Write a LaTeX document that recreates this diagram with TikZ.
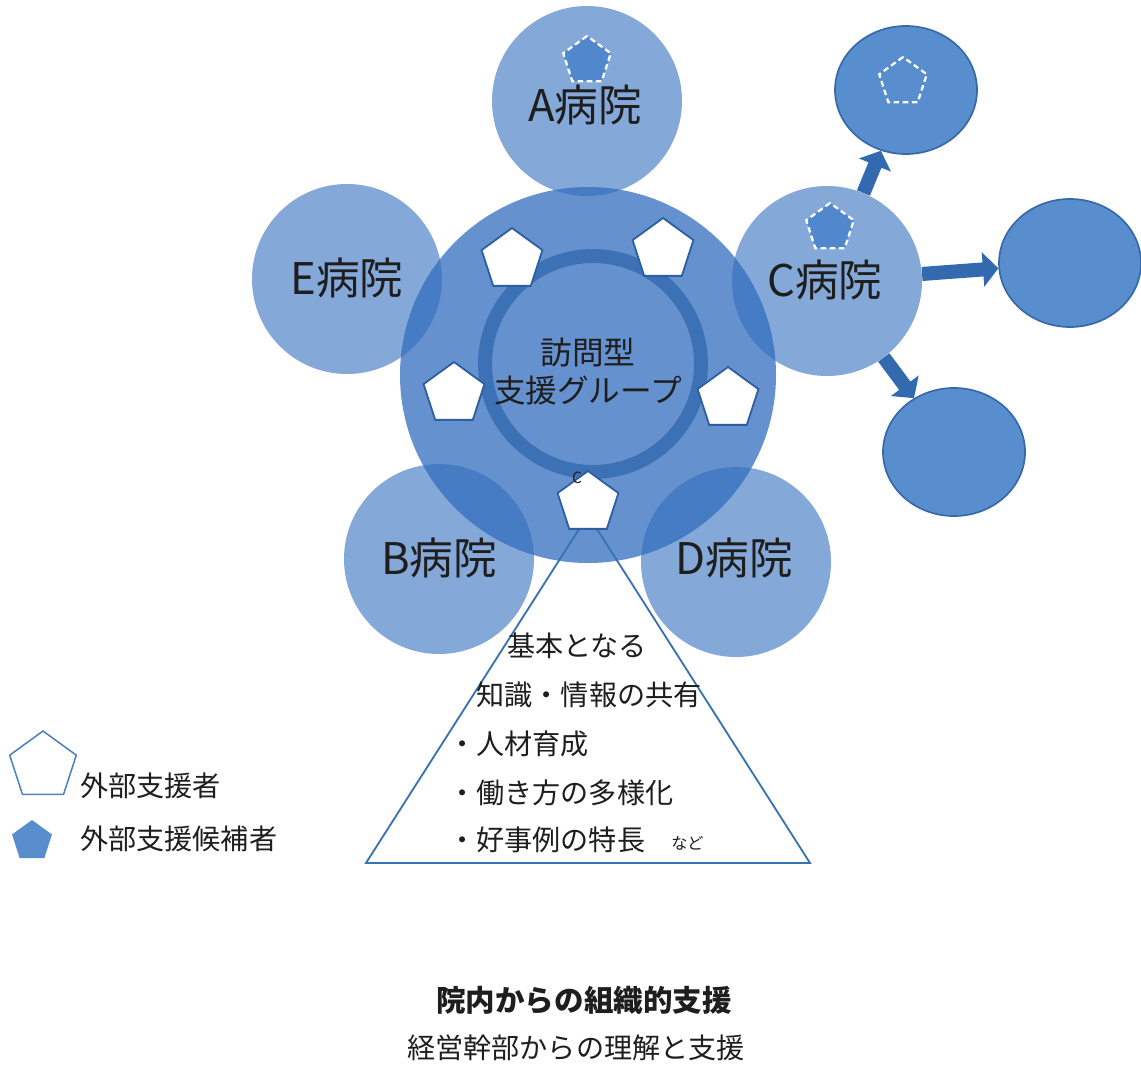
\documentclass[tikz,border=0pt]{standalone}
\usepackage{fontspec}
\setmainfont{Noto Sans CJK JP}
\usetikzlibrary{shapes.geometric,arrows.meta}
\newdimen\pxu \pxu=0.025cm
\definecolor{basebl}{RGB}{50,110,190}
\definecolor{ringbl}{RGB}{55,108,178}
\definecolor{satbl}{RGB}{88,142,206}
\definecolor{satedge}{RGB}{55,105,170}
\definecolor{arrbl}{RGB}{50,105,175}
\definecolor{pentedge}{RGB}{45,95,165}
\definecolor{dashfill}{RGB}{80,135,205}
\definecolor{triline}{RGB}{55,115,180}
\definecolor{legedge}{RGB}{80,130,190}
\definecolor{txt}{RGB}{30,30,30}
\begin{document}
\begin{tikzpicture}[x=0.025cm,y=-0.025cm,
  hubcircle/.style={circle, fill=basebl, fill opacity=0.75, minimum size=376\pxu, inner sep=0pt},
  hosp/.style={circle, fill=basebl, fill opacity=0.6, text opacity=1, minimum size=190\pxu, inner sep=0pt, text=txt, font=\fontsize{31pt}{36pt}\selectfont},
  ringst/.style={circle, draw=ringbl, draw opacity=0.85, line width=14\pxu, minimum size=216\pxu, inner sep=0pt},
  pent/.style={regular polygon, regular polygon sides=5, minimum size=64\pxu, inner sep=0pt, fill=white, draw=pentedge, line width=1.3pt},
  dpent/.style={regular polygon, regular polygon sides=5, minimum size=50\pxu, inner sep=0pt, draw=white, line width=1.6pt, dash pattern=on 4pt off 2.5pt},
  sat/.style={ellipse, fill=satbl, draw=satedge, line width=1.2pt, minimum width=142\pxu, minimum height=128\pxu, inner sep=0pt},
  arr/.style={draw=arrbl, line width=10pt, -{Triangle[length=11pt,width=24pt]}},
  trilin/.style={draw=triline, line width=1.3pt, line join=miter},
  txtA/.style={inner sep=0pt, text=txt, font=\fontsize{20pt}{24pt}\selectfont},
  hubtext/.style={inner sep=0pt, text=txt, align=center, font=\fontsize{22.5pt}{27pt}\selectfont},
  hlabel/.style={inner sep=0pt, text=txt, font=\fontsize{31pt}{36pt}\selectfont},
]
\fill[white] (0,0) rectangle (1141,1064);
\useasboundingbox (0,0) rectangle (1141,1064);

% central circle and ring
\node[hubcircle] (hub) at (588,375) {};
\node[ringst] (ring) at (593,364) {};

% hospitals
\node[hosp] (A) at (587,101) {};
\node[hosp] (E) at (347,279) {};
\node[hosp] (C) at (827,281) {};
\node[hosp] (B) at (439,559) {};
\node[hosp] (D) at (736,562) {};

\node[hlabel] (Alab) at (585,105) {A病院};
\node[hlabel] (Elab) at (347,278) {E病院};
\node[hlabel] (Clab) at (825,280) {C病院};
\node[hlabel] (Blab) at (439,558) {B病院};
\node[hlabel] (Dlab) at (734,558) {D病院};

% dashed candidate pentagons
\node[dpent, fill=dashfill] (dA) at (587,61) {};
\node[dpent, fill=dashfill] (dC) at (830,228) {};

% triangle
\coordinate (tA) at (588,515);
\coordinate (tL) at (366,863);
\coordinate (tR) at (810,863);
\draw[trilin] (tA) -- (tL) -- (tR) -- cycle;

% external supporters (pentagons)
\node[pent] (p1) at (512,260) {};
\node[pent] (p2) at (663,250) {};
\node[pent] (p3) at (454,394) {};
\node[pent] (p4) at (728,399) {};
\node[pent] (p5) at (588,503) {};
\node[inner sep=0pt, text=txt, font=\fontsize{11pt}{12pt}\selectfont] (cmark) at (577,478) {C};

% hub text
\node[hubtext] (hubtxt) at (588,372) {訪問型\\支援グループ};

% satellites
\node[sat] (S1) at (906,90) {};
\node[sat] (S2) at (1070,263) {};
\node[sat] (S3) at (954,452) {};
\node[dpent] (dS1) at (903,82) {};
\draw[arr] (C) -- (S1);
\draw[arr] (C) -- (S2);
\draw[arr] (C) -- (S3);

% triangle text
\node[txtA] (k1) at (577,646) {基本となる};
\node[txtA] (k2) at (589,695) {知識・情報の共有};
\node[txtA, anchor=west] (b1) at (448,744) {・人材育成};
\node[txtA, anchor=west] (b2) at (448,793) {・働き方の多様化};
\node[txtA, anchor=west] (b3) at (448,840) {・好事例の特長};
\node[inner sep=0pt, text=txt, anchor=west, font=\fontsize{11.5pt}{14pt}\selectfont] (nado) at (671,843) {など};

% legend
\node[regular polygon, regular polygon sides=5, minimum size=70\pxu, inner sep=0pt, fill=white, draw=legedge, line width=1.1pt] (L1) at (43,766) {};
\node[regular polygon, regular polygon sides=5, minimum size=42\pxu, inner sep=0pt, fill=satbl] (L2) at (32,841) {};
\node[txtA, anchor=west] (L1t) at (80,786) {外部支援者};
\node[txtA, anchor=west] (L2t) at (80,839) {外部支援候補者};

% bottom text
\node[inner sep=0pt, text=txt, font=\bfseries\fontsize{21pt}{25pt}\selectfont] (bt1) at (584,1000) {院内からの組織的支援};
\node[txtA] (bt2) at (576,1048) {経営幹部からの理解と支援};
\end{tikzpicture}
\end{document}
